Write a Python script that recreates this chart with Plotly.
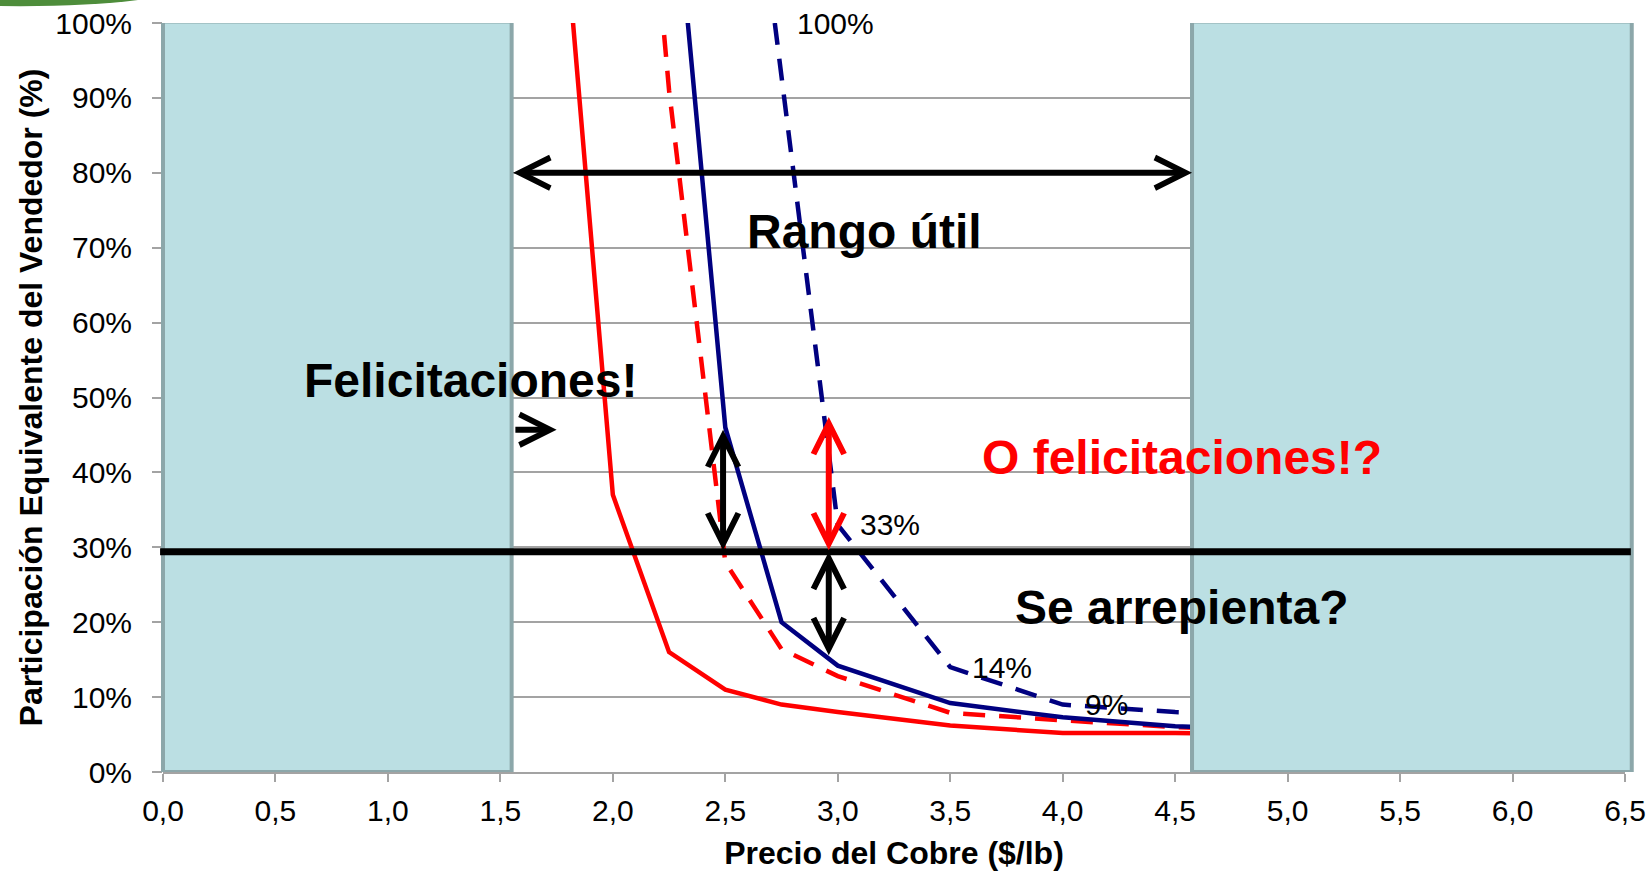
import plotly.graph_objects as go

# ---- data: copper price ($/lb) vs. seller's equivalent share (%) ----
precio_rojo = [1.75, 2.0, 2.25, 2.5, 2.75, 3.0, 3.5, 4.0, 4.5, 5.0]
rojo_solido = [126, 37, 16, 11, 9, 8, 6.2, 5.2, 5.2, 5.0]

precio_rojo_trazo = [2.0, 2.25, 2.5, 2.75, 3.0, 3.5, 4.0, 4.5, 5.0]
rojo_trazo = [175, 91, 28, 16.4, 12.8, 7.9, 6.9, 6.0, 5.5]

precio_azul = [2.25, 2.5, 2.75, 3.0, 3.5, 4.0, 4.5, 5.0]
azul_solido = [127, 46, 20, 14.2, 9.2, 7.3, 6.1, 5.6]

precio_azul_trazo = [2.72, 3.0, 3.5, 4.0, 4.5, 5.0]
azul_trazo = [100, 33, 14, 9, 8, 7.6]
puntos_etiquetados = [0, 1, 2, 3]          # points of the dashed blue curve that carry a label

x_ticks = [i * 0.5 for i in range(14)]      # 0,0 ... 6,5
y_ticks = list(range(0, 101, 10))           # 0% ... 100%
y_tick_text = [f"{v}%" for v in y_ticks]

# shaded zones outside the useful range, and the reference share
zona_izq = (0.0, 1.55)
zona_der = (4.575, 6.53)
participacion_ref = 29.4

FONT = "Liberation Sans, Arial, sans-serif"
RED = "#FF0000"
NAVY = "#000080"
GRID = "#A3A3A3"

fig = go.Figure()

fig.add_trace(go.Scatter(x=precio_rojo, y=rojo_solido, mode="lines",
                         line=dict(color=RED, width=4.5), showlegend=False))
fig.add_trace(go.Scatter(x=precio_rojo_trazo, y=rojo_trazo, mode="lines",
                         line=dict(color=RED, width=4.5, dash="22px,14px"), showlegend=False))
fig.add_trace(go.Scatter(x=precio_azul, y=azul_solido, mode="lines",
                         line=dict(color=NAVY, width=4.5), showlegend=False))
fig.add_trace(go.Scatter(x=precio_azul_trazo, y=azul_trazo, mode="lines",
                         line=dict(color=NAVY, width=4.5, dash="22px,14px"), showlegend=False))

# shaded zones (drawn over the curves)
xmax = x_ticks[-1]
for x0, x1 in (zona_izq, zona_der):
    fig.add_shape(type="rect", xref="x domain", yref="y",
                  x0=x0 / xmax, x1=x1 / xmax, y0=0, y1=100.2,
                  fillcolor="#BBDFE3", line=dict(color="#8CA7AA", width=4),
                  layer="above")

# reference share line across the whole plot
fig.add_shape(type="line", xref="x domain", yref="y", x0=-0.002, x1=1.004,
              y0=participacion_ref, y1=participacion_ref,
              line=dict(color="black", width=7), layer="above")

# decorative green swoosh in the corner
fig.add_shape(type="path", xref="paper", yref="paper",
              xsizemode="pixel", ysizemode="pixel", xanchor=0, yanchor=1,
              path="M -163,23 L -163,17 Q -80,16 -25,23 Z",
              fillcolor="#4E8D3B", line=dict(width=0), layer="above")

annotations = []

# value labels on the dashed blue curve
for i in puntos_etiquetados:
    annotations.append(dict(x=precio_azul_trazo[i], y=azul_trazo[i], xref="x", yref="y",
                            text=f"{azul_trazo[i]:.0f}%", showarrow=False,
                            xanchor="left", yanchor="middle", xshift=20,
                            font=dict(family=FONT, size=30, color="black")))


def flecha(x0, y0, x1, y1, color="black", doble=True):
    annotations.append(dict(x=x1, y=y1, ax=x0, ay=y0, xref="x", yref="y",
                            axref="x", ayref="y", text="", showarrow=True,
                            arrowhead=5, startarrowhead=5,
                            arrowsize=1.0, startarrowsize=1.0,
                            arrowwidth=6, arrowcolor=color, standoff=0,
                            startstandoff=0,
                            arrowside="end+start" if doble else "end",
                            font=dict(size=1)))


flecha(zona_izq[1], 80, zona_der[0], 80)
flecha(zona_izq[1] + 0.01, 45.7, 1.75, 45.7, doble=False)
flecha(2.49, participacion_ref, 2.49, 45.7)
flecha(2.96, participacion_ref, 2.96, 47.4, color=RED)
flecha(2.96, 15.4, 2.96, participacion_ref)


def texto(x, y, t, color="black"):
    annotations.append(dict(x=x, y=y, xref="x", yref="y", text=t, showarrow=False,
                            xanchor="center", yanchor="middle",
                            font=dict(family=FONT, size=48, color=color, weight="bold")))


texto(3.12, 72.2, "Rango útil")
texto(1.369, 52.3, "Felicitaciones!")
texto(4.53, 42.0, "O felicitaciones!?", color=RED)
texto(4.53, 22.0, "Se arrepienta?")

fig.update_layout(
    width=1648, height=871,
    margin=dict(l=163, r=23, t=23, b=99, pad=0, autoexpand=False),
    paper_bgcolor="white", plot_bgcolor="white",
    separators=",.",
    annotations=annotations,
    font=dict(family=FONT, color="black"),
)

fig.update_xaxes(
    range=[0, xmax], tickvals=x_ticks, tickformat=".1f",
    showgrid=False, zeroline=False,
    showline=True, linecolor=GRID, linewidth=2,
    ticks="outside", ticklen=8, tickwidth=2, tickcolor=GRID,
    ticklabelstandoff=3,
    tickfont=dict(family=FONT, size=30, color="black"),
    title=dict(text="Precio del Cobre ($/lb)", standoff=16,
               font=dict(family=FONT, size=32, color="black", weight="bold")),
)
fig.update_yaxes(
    range=[0, 100], tickvals=y_ticks, ticktext=y_tick_text,
    showgrid=True, gridcolor=GRID, gridwidth=2, zeroline=False,
    showline=False,
    ticks="outside", ticklen=10, tickwidth=2, tickcolor=GRID,
    ticklabelstandoff=14,
    tickfont=dict(family=FONT, size=30, color="black"),
    title=dict(text="Participación Equivalente del Vendedor (%)", standoff=3,
               font=dict(family=FONT, size=32, color="black", weight="bold")),
)

fig.write_html("out.html")
